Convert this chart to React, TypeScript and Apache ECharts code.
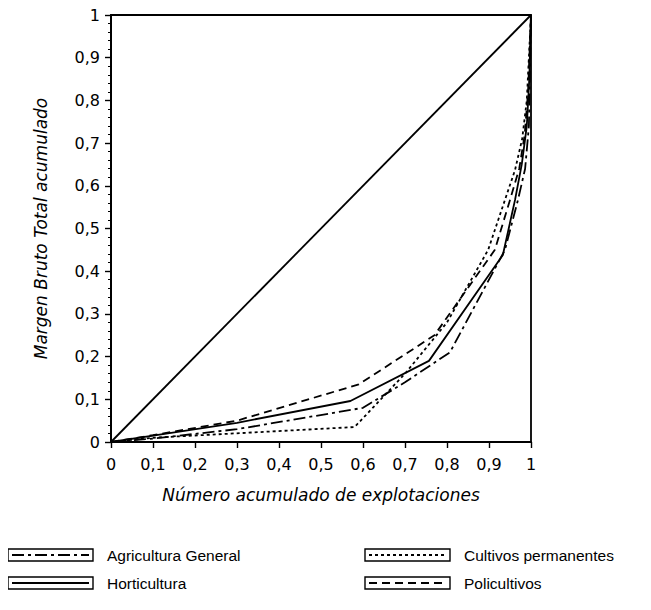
import React, { useEffect, useRef } from "react";
import * as echarts from "echarts";

// ---- Data ----
const tickValues = [0, 0.1, 0.2, 0.3, 0.4, 0.5, 0.6, 0.7, 0.8, 0.9, 1];

const equalityX = [0, 1];
const equalityY = [0, 1];

const agriculturaX = [0, 0.1, 0.3, 0.6, 0.7, 0.807, 0.938, 0.969, 0.986, 0.995, 1];
const agriculturaY = [0, 0.008, 0.03, 0.08, 0.14, 0.21, 0.45, 0.567, 0.64, 0.74, 1];

const horticulturaX = [0, 0.1, 0.3, 0.57, 0.757, 0.933, 0.962, 0.978, 0.99, 0.996, 1];
const horticulturaY = [0, 0.015, 0.045, 0.096, 0.19, 0.438, 0.567, 0.65, 0.74, 0.85, 1];

const cultivosX = [0, 0.1, 0.58, 0.7, 0.8, 0.898, 0.938, 0.962, 0.979, 0.99, 1];
const cultivosY = [0, 0.01, 0.035, 0.16, 0.28, 0.45, 0.567, 0.637, 0.71, 0.8, 1];

const policultivosX = [0, 0.1, 0.3, 0.59, 0.77, 0.914, 0.95, 0.972, 0.985, 0.993, 1];
const policultivosY = [0, 0.016, 0.05, 0.135, 0.25, 0.45, 0.567, 0.64, 0.72, 0.82, 1];

const seriesNames = ["Agricultura General", "Horticultura", "Cultivos permanentes", "Policultivos"];
const xAxisTitle = "Número acumulado de explotaciones";
const yAxisTitle = "Margen Bruto Total acumulado";

const zip = (xs: number[], ys: number[]) => xs.map((x, i) => [x, ys[i]]);
const fmt = (v: number) => String(Math.round(v * 10) / 10).replace(".", ",");

export default function App() {
  const ref = useRef<HTMLDivElement>(null);

  useEffect(() => {
    if (!ref.current) return;
    const chart = echarts.init(ref.current, undefined, { renderer: "svg" });

    const dashes: (number[] | "solid")[] = [[12, 4, 3, 4], "solid", [3, 3], [8, 5]];
    const seriesData = [
      zip(agriculturaX, agriculturaY),
      zip(horticulturaX, horticulturaY),
      zip(cultivosX, cultivosY),
      zip(policultivosX, policultivosY),
    ];

    const legendPos = [
      [8, 549],
      [8, 577],
      [365, 549],
      [365, 577],
    ];

    const legendGraphics = seriesNames.map((name, i) => ({
      type: "group",
      x: legendPos[i][0],
      y: legendPos[i][1],
      children: [
        {
          type: "rect",
          shape: { x: 0, y: 0, width: 85, height: 12 },
          style: { fill: "none", stroke: "#000", lineWidth: 1.4 },
        },
        {
          type: "line",
          shape: { x1: 4, y1: 6, x2: 81, y2: 6 },
          style: {
            stroke: "#000",
            lineWidth: 1.8,
            lineDash: dashes[i] === "solid" ? null : dashes[i],
          },
        },
        {
          type: "text",
          x: 99,
          y: 6,
          style: {
            text: name,
            fontFamily: "Liberation Sans, Arial, sans-serif",
            fontSize: 15.5,
            fill: "#000",
            align: "left",
            verticalAlign: "middle",
          },
        },
      ],
    }));

    const axisCommon = {
      type: "value" as const,
      min: 0,
      max: 1,
      interval: 0.1,
      axisLine: { show: true, onZero: false, lineStyle: { color: "#000", width: 2 } },
      axisTick: { show: true, length: 6, lineStyle: { color: "#000", width: 1.4 } },
      splitLine: { show: false },
      nameLocation: "middle" as const,
      nameTextStyle: {
        fontFamily: "DejaVu Sans, sans-serif",
        fontStyle: "italic" as const,
        fontSize: 17,
        color: "#000",
      },
    };

    chart.setOption({
      animation: false,
      backgroundColor: "#fff",
      grid: {
        left: 111,
        right: 120,
        top: 15,
        bottom: 168,
        show: true,
        borderColor: "#000",
        borderWidth: 1.8,
        backgroundColor: "transparent",
      },
      xAxis: {
        ...axisCommon,
        name: xAxisTitle,
        nameGap: 44,
        axisLabel: {
          margin: 14,
          fontSize: 16,
          fontFamily: "DejaVu Sans, sans-serif",
          color: "#000",
          formatter: (v: number) => fmt(v),
        },
      },
      yAxis: {
        ...axisCommon,
        name: yAxisTitle,
        nameGap: 62,
        minorTick: { show: true, splitNumber: 5, length: 3, lineStyle: { color: "#000", width: 1 } },
        axisLabel: {
          margin: 11,
          fontSize: 16,
          fontFamily: "DejaVu Sans, sans-serif",
          color: "#000",
          formatter: (v: number) => fmt(v),
        },
      },
      series: [
        {
          type: "line",
          name: "Igualdad",
          data: zip(equalityX, equalityY),
          symbol: "none",
          lineStyle: { color: "#000", width: 1.8 },
        },
        ...seriesNames.map((name, i) => ({
          type: "line",
          name,
          data: seriesData[i],
          symbol: "none",
          lineStyle: { color: "#000", width: 1.8, type: dashes[i] },
        })),
      ],
      graphic: legendGraphics,
    });

    return () => chart.dispose();
  }, []);

  return <div ref={ref} style={{ width: 651, height: 610, marginTop: -8, marginLeft: -8 }} />;
}
